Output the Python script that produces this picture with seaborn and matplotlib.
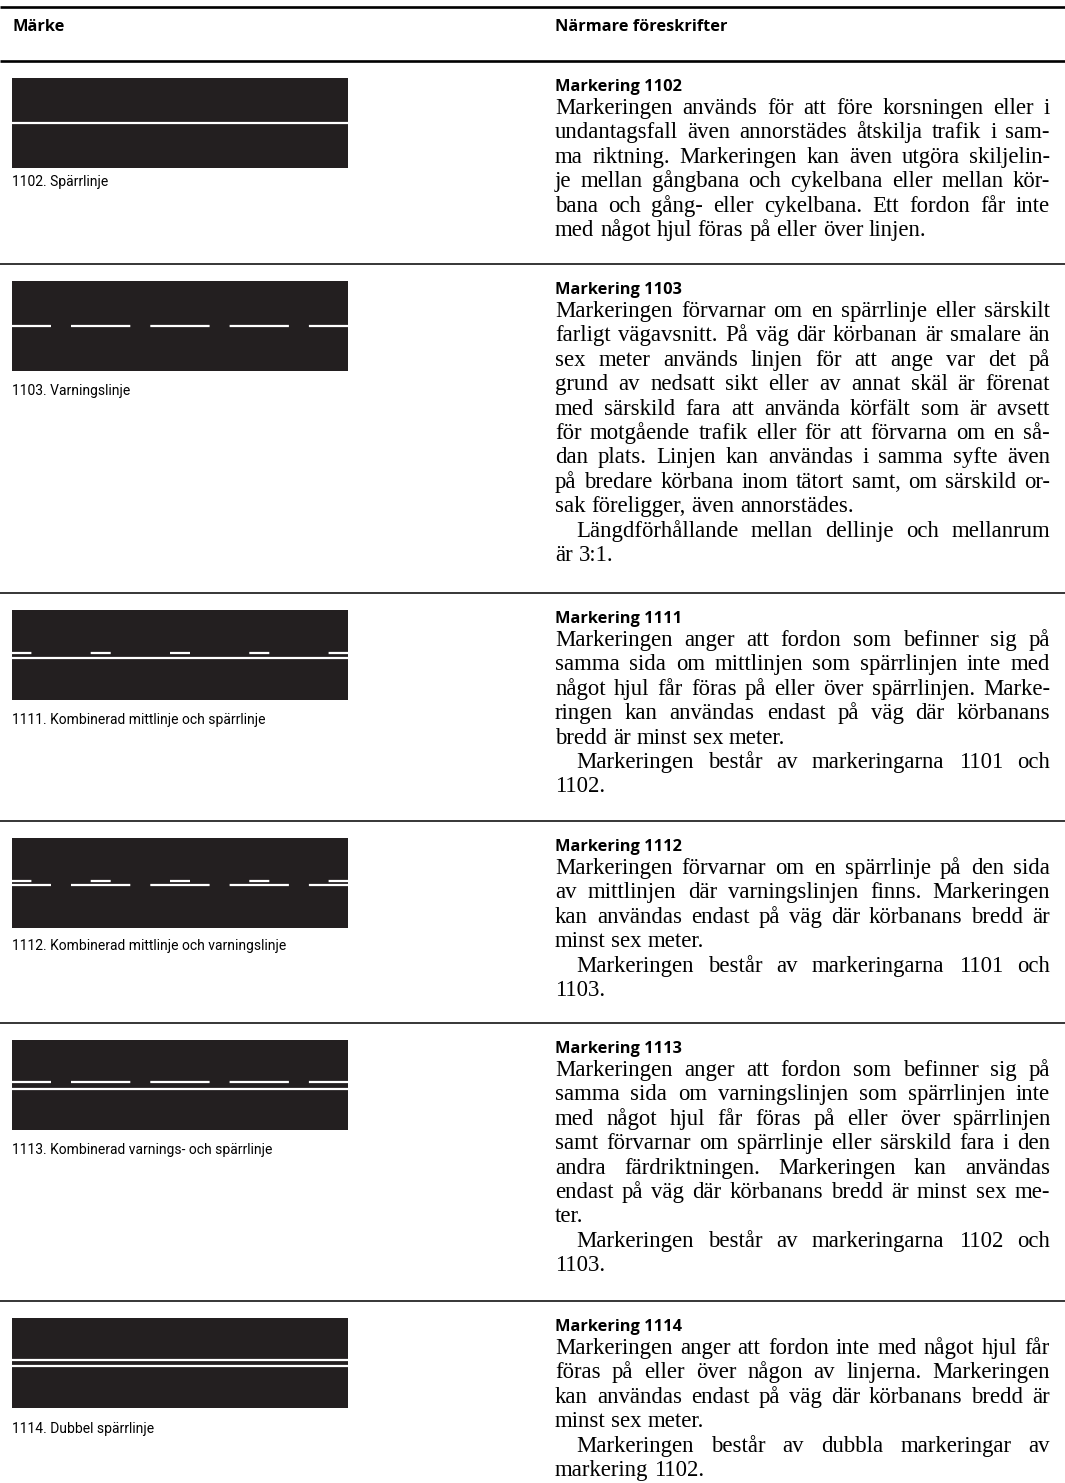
"""
Vägmarkeringar 1102-1114: Märke / Närmare föreskrifter
"""
import matplotlib
matplotlib.use("Agg")
import matplotlib.pyplot as plt
from matplotlib import font_manager
from matplotlib.patches import Rectangle
import seaborn as sns

W, H = 1065, 1483

# --- data -------------------------------------------------------------
header_left = "Märke"
header_right = "Närmare föreskrifter"

codes = ["1102", "1103", "1111", "1112", "1113", "1114"]

sign_labels = [
    "1102. Spärrlinje",
    "1103. Varningslinje",
    "1111. Kombinerad mittlinje och spärrlinje",
    "1112. Kombinerad mittlinje och varningslinje",
    "1113. Kombinerad varnings- och spärrlinje",
    "1114. Dubbel spärrlinje",
]

# marking layers per sign: (kind, offset from panel centre, px)
markings = [
    [("solid", 0.0)],
    [("long", 0.0)],
    [("short", -2.5), ("solid", 2.5)],
    [("short", -2.4), ("long", 2.4)],
    [("long", -3.5), ("solid", 3.5)],
    [("solid", -3.0), ("solid", 3.0)],
]

# dash patterns in px: (on, off, offset into pattern at panel edge)
dash_patterns = {
    "long": (59.3, 20.0, 20.3),
    "short": (20.0, 59.3, 0.6),
}

text_1102 = [[
    "Markeringen används för att före korsningen eller i",
    "undantagsfall även annorstädes åtskilja trafik i sam-",
    "ma riktning. Markeringen kan även utgöra skiljelin-",
    "je mellan gångbana och cykelbana eller mellan kör-",
    "bana och gång- eller cykelbana. Ett fordon får inte",
    "med något hjul föras på eller över linjen.",
]]
text_1103 = [[
    "Markeringen förvarnar om en spärrlinje eller särskilt",
    "farligt vägavsnitt. På väg där körbanan är smalare än",
    "sex meter används linjen för att ange var det på",
    "grund av nedsatt sikt eller av annat skäl är förenat",
    "med särskild fara att använda körfält som är avsett",
    "för motgående trafik eller för att förvarna om en så-",
    "dan plats. Linjen kan användas i samma syfte även",
    "på bredare körbana inom tätort samt, om särskild or-",
    "sak föreligger, även annorstädes.",
], [
    "Längdförhållande mellan dellinje och mellanrum",
    "är 3:1.",
]]
text_1111 = [[
    "Markeringen anger att fordon som befinner sig på",
    "samma sida om mittlinjen som spärrlinjen inte med",
    "något hjul får föras på eller över spärrlinjen. Marke-",
    "ringen kan användas endast på väg där körbanans",
    "bredd är minst sex meter.",
], [
    "Markeringen består av markeringarna 1101 och",
    "1102.",
]]
text_1112 = [[
    "Markeringen förvarnar om en spärrlinje på den sida",
    "av mittlinjen där varningslinjen finns. Markeringen",
    "kan användas endast på väg där körbanans bredd är",
    "minst sex meter.",
], [
    "Markeringen består av markeringarna 1101 och",
    "1103.",
]]
text_1113 = [[
    "Markeringen anger att fordon som befinner sig på",
    "samma sida om varningslinjen som spärrlinjen inte",
    "med något hjul får föras på eller över spärrlinjen",
    "samt förvarnar om spärrlinje eller särskild fara i den",
    "andra färdriktningen. Markeringen kan användas",
    "endast på väg där körbanans bredd är minst sex me-",
    "ter.",
], [
    "Markeringen består av markeringarna 1102 och",
    "1103.",
]]
text_1114 = [[
    "Markeringen anger att fordon inte med något hjul får",
    "föras på eller över någon av linjerna. Markeringen",
    "kan användas endast på väg där körbanans bredd är",
    "minst sex meter.",
], [
    "Markeringen består av dubbla markeringar av",
    "markering 1102.",
]]
body_texts = [text_1102, text_1103, text_1111, text_1112, text_1113, text_1114]

# --- layout (pixels, y downwards) ----------------------------------------
row_tops = [61, 264, 593, 821, 1023, 1301]
label_baselines = [186, 395, 724, 950, 1154, 1433]
PANEL_X0, PANEL_X1 = 12, 348
PANEL_DY, PANEL_H = 17, 90
TEXT_X0, TEXT_X1 = 555, 1050
HEAD_DY, BODY_DY, LEADING = 30, 53, 24.4
INDENT = 21
ROAD = "#231f20"
PX = 0.72  # points per pixel at dpi 100

sns.set_theme(style="white")
plt.rcParams["lines.scale_dashes"] = False

available = {f.name for f in font_manager.fontManager.ttflist}
narrow_font = "Roboto" if "Roboto" in available else "DejaVu Sans"
bold_font = "Open Sans" if "Open Sans" in available else "DejaVu Sans"
serif_font = "Liberation Serif"

fig = plt.figure(figsize=(W / 100, H / 100), dpi=100)
ax = fig.add_axes([0, 0, 1, 1])
ax.set_xlim(0, W)
ax.set_ylim(H, 0)
ax.axis("off")
renderer = fig.canvas.get_renderer()

# rules
ax.hlines(7, 0, W, color="black", lw=1.9)
ax.hlines(row_tops[0], 0, W, color="black", lw=1.9)
ax.hlines(row_tops[1:], 0, W, color="black", lw=1.1)

head_kw = dict(fontfamily=bold_font, fontweight="bold", fontsize=11.8,
               va="baseline", color="black")
ax.text(12, 31, header_left, **head_kw)
ax.text(TEXT_X0, 31, header_right, **head_kw)


def text_width(s, **kw):
    t = ax.text(0, 0, s, **kw)
    w = t.get_window_extent(renderer=renderer).width
    t.remove()
    return w


body_kw = dict(fontfamily=serif_font, fontsize=16.4, color="black", va="baseline")
space_w = text_width("a a", **body_kw) - text_width("aa", **body_kw)


def draw_line(words, x0, x1, y, justify):
    items = [ax.text(0, y, w, **body_kw) for w in words]
    widths = [t.get_window_extent(renderer=renderer).width for t in items]
    gap = space_w
    if justify and len(words) > 1:
        gap = (x1 - x0 - sum(widths)) / (len(words) - 1)
    x = x0
    for t, w in zip(items, widths):
        t.set_x(x)
        x += w + gap


for i, code in enumerate(codes):
    top = row_tops[i]

    # road panel
    py0 = top + PANEL_DY
    ax.add_patch(Rectangle((PANEL_X0, py0), PANEL_X1 - PANEL_X0, PANEL_H,
                           facecolor=ROAD, edgecolor="none"))
    yc = py0 + PANEL_H / 2
    for kind, dy in markings[i]:
        if kind == "solid":
            ls = "-"
        else:
            on, off, offset = dash_patterns[kind]
            ls = (offset * PX, (on * PX, off * PX))
        sns.lineplot(x=[PANEL_X0, PANEL_X1], y=[yc + dy, yc + dy], ax=ax,
                     color="white", lw=1.6, linestyle=ls,
                     solid_capstyle="butt", dash_capstyle="butt", legend=False)

    ax.text(PANEL_X0, label_baselines[i], sign_labels[i], fontfamily=narrow_font,
            fontsize=10, va="baseline", color="black")

    # description
    ax.text(TEXT_X0, top + HEAD_DY, f"Markering {code}", **head_kw)
    y = top + BODY_DY
    for p, para in enumerate(body_texts[i]):
        for j, line in enumerate(para):
            x0 = TEXT_X0 + (INDENT if (p > 0 and j == 0) else 0)
            draw_line(line.split(" "), x0, TEXT_X1, y, justify=(j < len(para) - 1))
            y += LEADING

ax.set_xlim(0, W)
ax.set_ylim(H, 0)
ax.axis("off")
fig.savefig("out.png", dpi=100, facecolor="white")
plt.close(fig)
